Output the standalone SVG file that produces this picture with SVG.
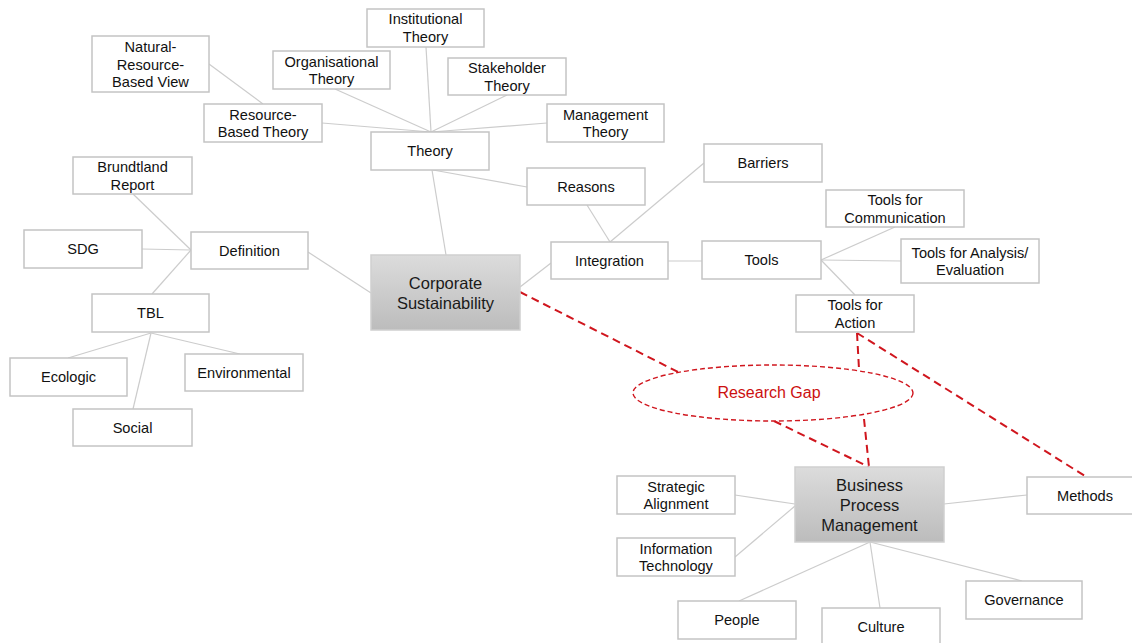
<svg xmlns="http://www.w3.org/2000/svg" width="1132" height="643" viewBox="0 0 1132 643">
  <defs>
    <linearGradient id="hubFill" x1="0" y1="0" x2="0" y2="1">
      <stop offset="0" stop-color="#dcdcdc"/>
      <stop offset="1" stop-color="#bcbcbc"/>
    </linearGradient>
    <style>
      .box { fill: #ffffff; stroke: #c4c4c4; stroke-width: 1.5; }
      .hub { fill: url(#hubFill); stroke: #cfcfcf; stroke-width: 1.5; }
      .lbl { font-family: "Liberation Sans", Arial, sans-serif; font-size: 14.6px; fill: #111111; text-anchor: middle; dominant-baseline: central; }
      .big { font-family: "Liberation Sans", Arial, sans-serif; font-size: 16.5px; fill: #1a1a1a; text-anchor: middle; dominant-baseline: central; }
      .link { stroke: #cccccc; stroke-width: 1.2; fill: none; }
      .gap { stroke: #d0161e; stroke-width: 2; stroke-dasharray: 8 5; fill: none; }
      .gapRing { stroke: #d0161e; stroke-width: 1.4; stroke-dasharray: 5 3; fill: #ffffff; }
      .gapText { font-family: "Liberation Sans", Arial, sans-serif; font-size: 16px; fill: #cc1010; text-anchor: middle; dominant-baseline: central; }
    </style>
  </defs>
  <rect width="1132" height="643" fill="#ffffff"/>

  <!-- connectors -->
  <g id="connectors">
    <line class="link" x1="209" y1="64" x2="263" y2="104"/>
    <line class="link" x1="322" y1="123" x2="431" y2="132"/>
    <line class="link" x1="335" y1="89" x2="431" y2="132"/>
    <line class="link" x1="426" y1="47" x2="431" y2="132"/>
    <line class="link" x1="507" y1="95" x2="431" y2="132"/>
    <line class="link" x1="547" y1="123" x2="431" y2="132"/>
    <line class="link" x1="433" y1="170" x2="527" y2="187"/>
    <line class="link" x1="432" y1="170" x2="446" y2="255"/>
    <line class="link" x1="133" y1="194" x2="191" y2="250"/>
    <line class="link" x1="142" y1="249" x2="191" y2="250"/>
    <line class="link" x1="152" y1="294" x2="191" y2="250"/>
    <line class="link" x1="308" y1="252" x2="371" y2="293"/>
    <line class="link" x1="151" y1="333" x2="68" y2="358"/>
    <line class="link" x1="151" y1="333" x2="240" y2="354"/>
    <line class="link" x1="151" y1="333" x2="133" y2="409"/>
    <line class="link" x1="520" y1="287" x2="551" y2="263"/>
    <line class="link" x1="587" y1="205" x2="610" y2="242"/>
    <line class="link" x1="704" y1="163" x2="610" y2="242"/>
    <line class="link" x1="668" y1="261" x2="702" y2="261"/>
    <line class="link" x1="821" y1="260" x2="895" y2="227"/>
    <line class="link" x1="821" y1="260" x2="901" y2="261"/>
    <line class="link" x1="821" y1="260" x2="855" y2="295"/>
    <line class="link" x1="735" y1="495" x2="795" y2="504"/>
    <line class="link" x1="735" y1="557" x2="795" y2="506"/>
    <line class="link" x1="870" y1="542" x2="739" y2="601"/>
    <line class="link" x1="870" y1="542" x2="880" y2="608"/>
    <line class="link" x1="870" y1="542" x2="1022" y2="581"/>
    <line class="link" x1="944" y1="504" x2="1027" y2="495"/>
    <!-- research gap links -->
    <line class="gap" x1="520" y1="292" x2="678" y2="372"/>
    <line class="gap" x1="774" y1="421" x2="869" y2="467"/>
    <line class="gap" x1="864" y1="419" x2="869" y2="467"/>
    <line class="gap" x1="857" y1="333" x2="859" y2="369"/>
    <line class="gap" x1="857" y1="333" x2="1085" y2="476"/>
  </g>

  <!-- theory branch -->
  <g id="node-nrbv"><rect class="box" x="92" y="36" width="117" height="56"/>
    <text class="lbl" x="150.5" y="47">Natural-</text><text class="lbl" x="150.5" y="64.5">Resource-</text><text class="lbl" x="150.5" y="82">Based View</text></g>
  <g id="node-rbt"><rect class="box" x="204" y="104" width="118" height="38"/>
    <text class="lbl" x="263" y="115">Resource-</text><text class="lbl" x="263" y="132">Based Theory</text></g>
  <g id="node-org"><rect class="box" x="273" y="51" width="117" height="38"/>
    <text class="lbl" x="331.5" y="62">Organisational</text><text class="lbl" x="331.5" y="79">Theory</text></g>
  <g id="node-inst"><rect class="box" x="367" y="9" width="117" height="38"/>
    <text class="lbl" x="425.5" y="19">Institutional</text><text class="lbl" x="425.5" y="37">Theory</text></g>
  <g id="node-stake"><rect class="box" x="448" y="58" width="118" height="37"/>
    <text class="lbl" x="507" y="68">Stakeholder</text><text class="lbl" x="507" y="86">Theory</text></g>
  <g id="node-mgmt"><rect class="box" x="547" y="104" width="117" height="38"/>
    <text class="lbl" x="605.5" y="115">Management</text><text class="lbl" x="605.5" y="132">Theory</text></g>
  <g id="node-theory"><rect class="box" x="371" y="132" width="118" height="38"/>
    <text class="lbl" x="430" y="151">Theory</text></g>

  <!-- definition branch -->
  <g id="node-brundtland"><rect class="box" x="73" y="157" width="119" height="37"/>
    <text class="lbl" x="132.5" y="167">Brundtland</text><text class="lbl" x="132.5" y="185">Report</text></g>
  <g id="node-sdg"><rect class="box" x="24" y="230" width="118" height="38"/>
    <text class="lbl" x="83" y="249">SDG</text></g>
  <g id="node-definition"><rect class="box" x="191" y="232" width="117" height="37"/>
    <text class="lbl" x="249.5" y="251">Definition</text></g>
  <g id="node-tbl"><rect class="box" x="92" y="294" width="117" height="38"/>
    <text class="lbl" x="150.5" y="313">TBL</text></g>
  <g id="node-ecologic"><rect class="box" x="10" y="358" width="117" height="38"/>
    <text class="lbl" x="68.5" y="377">Ecologic</text></g>
  <g id="node-environmental"><rect class="box" x="185" y="354" width="118" height="37"/>
    <text class="lbl" x="244" y="373">Environmental</text></g>
  <g id="node-social"><rect class="box" x="73" y="409" width="119" height="37"/>
    <text class="lbl" x="132.5" y="428">Social</text></g>

  <!-- core topic -->
  <g id="node-cs"><rect class="hub" x="371" y="255" width="149" height="75"/>
    <text class="big" x="445.5" y="283">Corporate</text><text class="big" x="445.5" y="303">Sustainability</text></g>

  <!-- integration branch -->
  <g id="node-reasons"><rect class="box" x="527" y="168" width="118" height="37"/>
    <text class="lbl" x="586" y="187">Reasons</text></g>
  <g id="node-barriers"><rect class="box" x="704" y="144" width="118" height="38"/>
    <text class="lbl" x="763" y="163">Barriers</text></g>
  <g id="node-integration"><rect class="box" x="551" y="242" width="117" height="37"/>
    <text class="lbl" x="609.5" y="261">Integration</text></g>
  <g id="node-tools"><rect class="box" x="702" y="241" width="119" height="38"/>
    <text class="lbl" x="761.5" y="260">Tools</text></g>
  <g id="node-tools-comm"><rect class="box" x="826" y="190" width="138" height="37"/>
    <text class="lbl" x="895" y="200">Tools for</text><text class="lbl" x="895" y="218">Communication</text></g>
  <g id="node-tools-analysis"><rect class="box" x="901" y="239" width="138" height="44"/>
    <text class="lbl" x="970" y="253">Tools for Analysis/</text><text class="lbl" x="970" y="270">Evaluation</text></g>
  <g id="node-tools-action"><rect class="box" x="796" y="295" width="118" height="37"/>
    <text class="lbl" x="855" y="305">Tools for</text><text class="lbl" x="855" y="322.5">Action</text></g>

  <!-- research gap -->
  <g id="node-gap"><ellipse class="gapRing" cx="773" cy="393" rx="140" ry="28"/>
    <text class="gapText" x="769" y="392">Research Gap</text></g>

  <!-- BPM cluster -->
  <g id="node-bpm"><rect class="hub" x="795" y="467" width="149" height="75"/>
    <text class="big" x="869.5" y="485">Business</text><text class="big" x="869.5" y="505">Process</text><text class="big" x="869.5" y="525">Management</text></g>
  <g id="node-strategic"><rect class="box" x="617" y="476" width="118" height="38"/>
    <text class="lbl" x="676" y="487">Strategic</text><text class="lbl" x="676" y="504">Alignment</text></g>
  <g id="node-it"><rect class="box" x="617" y="538" width="118" height="38"/>
    <text class="lbl" x="676" y="549">Information</text><text class="lbl" x="676" y="566">Technology</text></g>
  <g id="node-people"><rect class="box" x="678" y="601" width="118" height="38"/>
    <text class="lbl" x="737" y="620">People</text></g>
  <g id="node-culture"><rect class="box" x="822" y="608" width="118" height="40"/>
    <text class="lbl" x="881" y="627">Culture</text></g>
  <g id="node-governance"><rect class="box" x="966" y="581" width="116" height="38"/>
    <text class="lbl" x="1024" y="600">Governance</text></g>
  <g id="node-methods"><rect class="box" x="1027" y="477" width="118" height="37"/>
    <text class="lbl" x="1085" y="496">Methods</text></g>
</svg>
